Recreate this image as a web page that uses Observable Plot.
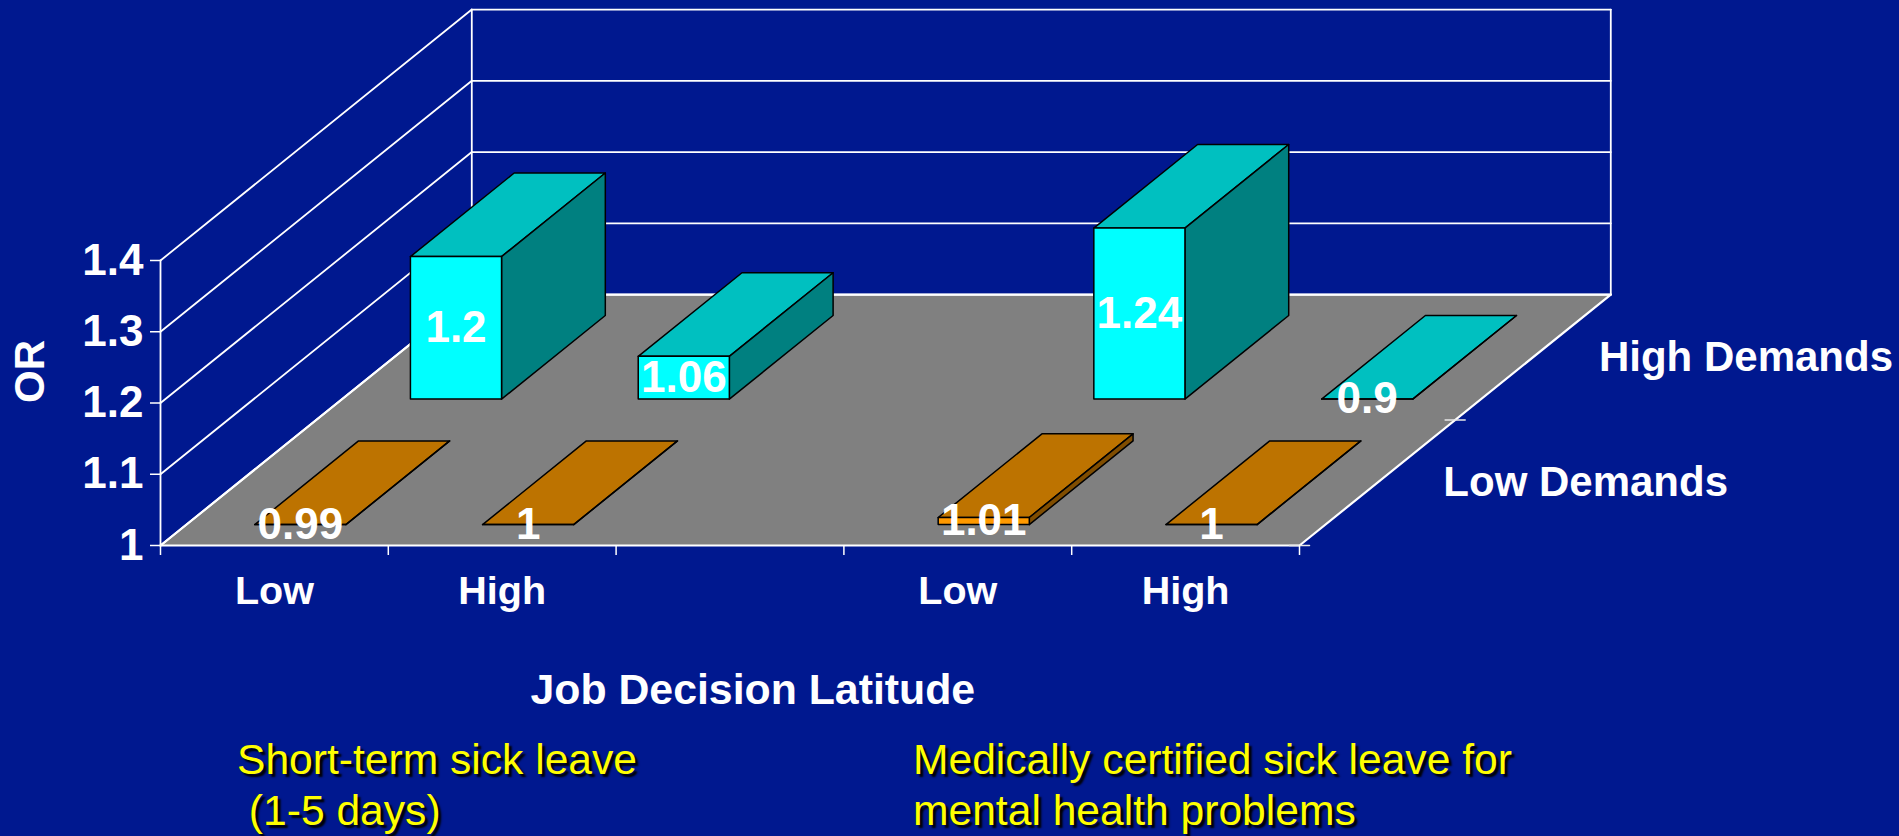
<!DOCTYPE html>
<html>
<head>
<meta charset="utf-8">
<script src="https://cdn.jsdelivr.net/npm/d3@7"></script>
<script src="https://cdn.jsdelivr.net/npm/@observablehq/plot@0.6"></script>
<style>
  html, body { margin: 0; padding: 0; background: #00188f; overflow: hidden; width: 1899px; height: 836px; }
  #chart svg { display: block; }
  .captions { position: relative; margin-top: 14px; height: 102px; font-family: "Liberation Sans", Arial, sans-serif; color: #ffff00; font-size: 42.6px; line-height: 51px; text-shadow: 3px 3px 2px #000; white-space: pre; }
  .captions div { position: absolute; top: 0; }
</style>
</head>
<body>
<div id="chart"></div>
<div class="captions">
  <div id="capA" style="left:237px"></div>
  <div id="capB" style="left:913px"></div>
</div>
<script>
const latitudeLabels = ["Low", "High", "", "Low", "High"];
const demandLabels = ["Low Demands", "High Demands"];
const lowDemandOR = [0.99, 1, null, 1.01, 1];
const highDemandOR = [1.2, 1.06, null, 1.24, 0.9];
const orTicks = [1, 1.1, 1.2, 1.3, 1.4];
const xAxisTitle = "Job Decision Latitude";
const yAxisTitle = "OR";
const captionShort = "Short-term sick leave\n (1-5 days)";
const captionMedical = "Medically certified sick leave for\nmental health problems";

const lowColors = {front: "#ff9900", top: "#bd7300", side: "#804d00"};
const highColors = {front: "#00ffff", top: "#00c0c0", side: "#008080"};

// oblique projection: category position c, depth d (0 front, 1 back), value v
const K_X = 1.3665, K_Y = 0.3522;
const P = (c, d, v) => ({X: c + d * K_X, Y: v + d * K_Y});
const poly = (id, color, pts) => [...pts, pts[0]].map(p => ({id, color, ...P(...p)}));
const base = orTicks[0];
const top_ = orTicks[orTicks.length - 1];

// frame of the 3D box
const floor = poly("floor", "#808080", [[0,0,base],[5,0,base],[5,1,base],[0,1,base]]);
const walls = [];
orTicks.forEach(v => {
  walls.push({id:"s"+v, ...P(0,0,v)}, {id:"s"+v, ...P(0,1,v)}, {id:"b"+v, ...P(0,1,v)}, {id:"b"+v, ...P(5,1,v)});
});
[[0,0],[0,1],[5,1]].forEach(([c,d]) => {
  walls.push({id:"v"+c+d, ...P(c,d,base)}, {id:"v"+c+d, ...P(c,d,top_)});
});
const floorEdges = [
  {id:"e1",...P(0,0,base)},{id:"e1",...P(5,0,base)},{id:"e1",...P(5,1,base)},
  {id:"e2",...P(0,0,base)},{id:"e2",...P(0,1,base)},{id:"e2",...P(5,1,base)}
];
const depthTicks = [0, 0.5].flatMap(d => [
  {id:"t"+d, ...P(5,d,base), X: P(5,d,base).X - 0.044},
  {id:"t"+d, ...P(5,d,base), X: P(5,d,base).X + 0.044}
]);

// bars: 40% of a category cell wide, 2/3 of a depth cell deep
const faces = [], labels = [];
function addRow(values, row, col, name) {
  const d0 = row * 0.5 + 1/12, d1 = row * 0.5 + 5/12;
  values.forEach((value, i) => {
    if (value == null) return;
    const x0 = i + 0.3, x1 = i + 0.7, h = Math.max(value, base), k = name + i;
    faces.push(...poly(k+"t", col.top, [[x0,d0,h],[x1,d0,h],[x1,d1,h],[x0,d1,h]]));
    faces.push(...poly(k+"s", col.side, [[x1,d0,base],[x1,d1,base],[x1,d1,h],[x1,d0,h]]));
    faces.push(...poly(k+"f", col.front, [[x0,d0,base],[x1,d0,base],[x1,d0,h],[x0,d0,h]]));
    labels.push({text: String(value), ...P(i + 0.5, d0, (base + h) / 2)});
  });
}
addRow(highDemandOR, 1, highColors, "h");
addRow(lowDemandOR, 0, lowColors, "l");

const depthLabelData = demandLabels.map((text, i) => ({text, ...P(5, i * 0.5 + 0.25, base)}));
const catTicks = latitudeLabels.map((t, i) => i + 0.5).filter((_, i) => latitudeLabels[i]);

const chart = Plot.plot({
  width: 1899,
  height: 720,
  marginLeft: 160,
  marginRight: 600,
  marginTop: 260,
  marginBottom: 175,
  style: {background: "transparent", color: "#fff", fontFamily: "'Liberation Sans', Arial, sans-serif", fontWeight: "bold", overflow: "visible"},
  x: {domain: [0, 5], axis: null},
  y: {domain: [base, top_], axis: null},
  color: {type: "identity"},
  marks: [
    Plot.line(floor, {x:"X", y:"Y", z:"id", fill:"color", stroke:"none"}),
    Plot.line(walls, {x:"X", y:"Y", z:"id", stroke:"#fff", strokeWidth:1.8}),
    Plot.line(floorEdges, {x:"X", y:"Y", z:"id", stroke:"#fff", strokeWidth:2.2}),
    Plot.line(depthTicks, {x:"X", y:"Y", z:"id", stroke:"#e8e8e8", strokeWidth:1.5}),
    Plot.axisY(orTicks, {
      tickFormat: d => String(d), tickSize: 10, tickPadding: 7, fontSize: 44,
      stroke: "#fff", strokeWidth: 1.5, label: null
    }),
    Plot.axisX(d3.range(6), {
      tickFormat: () => "", tickSize: 10, stroke: "#fff", strokeWidth: 1.5, label: null
    }),
    Plot.axisX(catTicks, {
      tickFormat: d => latitudeLabels[d - 0.5], tickSize: 0, tickPadding: 30, fontSize: 39.5, label: null
    }),
    Plot.line(faces, {x:"X", y:"Y", z:"id", fill:"color", stroke:"#000", strokeWidth:1.5, strokeLinejoin:"round"}),
    Plot.text(labels, {x:"X", y:"Y", text:"text", fill:"#fff", fontSize:44, fontWeight:"bold"}),
    Plot.text(depthLabelData, {x:"X", y:"Y", text:"text", fill:"#fff", fontSize:42, fontWeight:"bold", textAnchor:"start", dx:66}),
    Plot.text([xAxisTitle], {x:[2.6], frameAnchor:"bottom", dy:158, fill:"#fff", fontSize:42.8, fontWeight:"bold"}),
    Plot.text([yAxisTitle], {y:[1.2], frameAnchor:"left", dx:-130, rotate:-90, fill:"#fff", fontSize:42, fontWeight:"bold"})
  ]
});
document.getElementById("chart").append(chart);
document.getElementById("capA").textContent = captionShort;
document.getElementById("capB").textContent = captionMedical;
</script>
</body>
</html>
